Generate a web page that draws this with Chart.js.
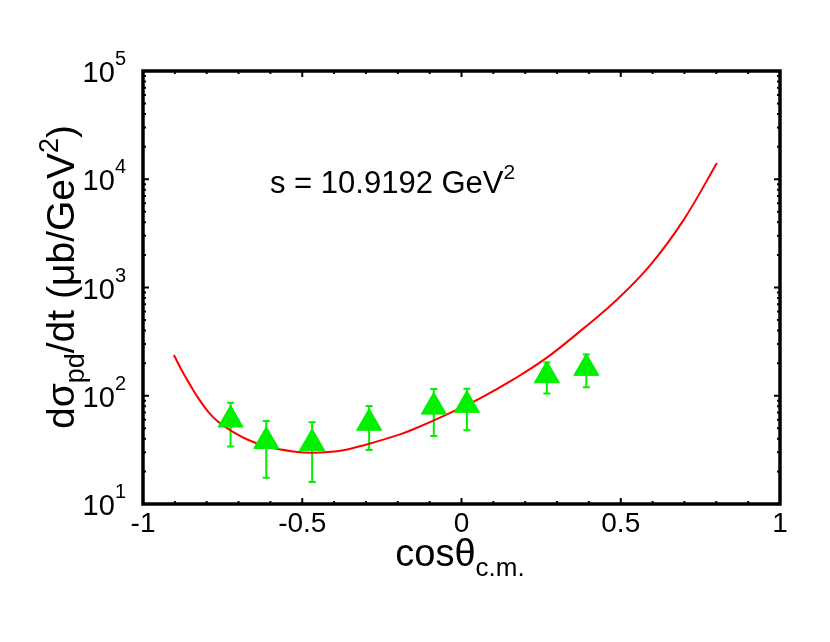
<!DOCTYPE html>
<html>
<head>
<meta charset="utf-8">
<script src="https://cdn.jsdelivr.net/npm/chart.js@4.4.0/dist/chart.umd.min.js"></script>
<style>
 html, body { margin: 0; padding: 0; background: #fff; }
</style>
</head>
<body>
<canvas id="myChart" width="830" height="642"></canvas>
<script>
// measured points (cos theta, dsigma/dt, error)
const cosTheta = [-0.725, -0.613, -0.469, -0.290, -0.087, 0.017, 0.268, 0.392];
const dsdt = [60, 38, 36.5, 56, 79, 82, 154, 180];
const dsdtErr = [26, 20.5, 20.5, 24.5, 36.5, 34, 49, 60];

// model curve
const curveCos = [-0.903, -0.879, -0.852, -0.826, -0.795, -0.764, -0.7215, -0.669, -0.612, -0.528,
 -0.465, -0.381, -0.298, -0.193, -0.151, -0.047, 0.058, 0.163, 0.268, 0.383,
 0.487, 0.592, 0.697, 0.802];
const curveVal = [238, 173, 126, 94.6, 71, 57.5, 47.2, 39, 34, 30.6,
 29.8, 31, 35.5, 44, 49, 67, 94.6, 141.5, 225, 419,
 766, 1600, 4190, 14150];

// axis ticks
const xTicks = [-1, -0.5, 0, 0.5, 1];
const xTickLabels = ['-1', '-0.5', '0', '0.5', '1'];
const xMinorStep = 0.1;
const yTicks = [10, 100, 1000, 10000, 100000];
const yTickExp = ['1', '2', '3', '4', '5'];

const FONT = "'Liberation Sans', Arial, Helvetica, sans-serif";
const GREEN = '#00f000';

// draws a run of text pieces (normal, sub, sup) starting at x
function drawPieces(ctx, pieces, x, y, align) {
 let total = 0;
 pieces.forEach(p => {
  ctx.font = p.size + 'px ' + FONT;
  p.w = ctx.measureText(p.t).width;
  total += p.w;
 });
 let cx = x;
 if (align === 'center') cx = x - total / 2;
 if (align === 'right') cx = x - total;
 ctx.textAlign = 'left';
 ctx.textBaseline = 'alphabetic';
 pieces.forEach(p => {
  ctx.font = p.size + 'px ' + FONT;
  ctx.fillText(p.t, cx, y + (p.dy || 0));
  cx += p.w;
 });
}

const errorBars = {
 id: 'errorBars',
 beforeDatasetsDraw(chart) {
  const ctx = chart.ctx;
  const xs = chart.scales.x, ys = chart.scales.y;
  ctx.save();
  ctx.strokeStyle = GREEN;
  ctx.lineWidth = 2;
  for (let i = 0; i < cosTheta.length; i++) {
   const px = xs.getPixelForValue(cosTheta[i]);
   const top = ys.getPixelForValue(dsdt[i] + dsdtErr[i]);
   const bot = ys.getPixelForValue(dsdt[i] - dsdtErr[i]);
   ctx.beginPath();
   ctx.moveTo(px, top); ctx.lineTo(px, bot);
   ctx.moveTo(px - 3.5, top); ctx.lineTo(px + 3.5, top);
   ctx.moveTo(px - 3.5, bot); ctx.lineTo(px + 3.5, bot);
   ctx.stroke();
  }
  ctx.restore();
 }
};

const frameAndLabels = {
 id: 'frameAndLabels',
 afterDraw(chart) {
  const ctx = chart.ctx;
  const a = chart.chartArea;
  const xs = chart.scales.x, ys = chart.scales.y;
  ctx.save();
  ctx.strokeStyle = '#000';
  ctx.fillStyle = '#000';

  // ticks
  ctx.lineWidth = 2;
  ctx.beginPath();
  for (let v = -1 + xMinorStep; v < 1 - 1e-6; v += xMinorStep) {
   const px = xs.getPixelForValue(v);
   const len = xTicks.some(t => Math.abs(t - v) < 1e-6) ? 6 : 3;
   ctx.moveTo(px, a.bottom); ctx.lineTo(px, a.bottom - len);
   ctx.moveTo(px, a.top); ctx.lineTo(px, a.top + len);
  }
  for (let d = 0; d < yTicks.length; d++) {
   const base = yTicks[d];
   for (let k = 1; k <= 9; k++) {
    const v = base * k;
    if (v > yTicks[yTicks.length - 1]) break;
    const py = ys.getPixelForValue(v);
    const len = k === 1 ? 6 : 3;
    ctx.moveTo(a.left, py); ctx.lineTo(a.left + len, py);
    ctx.moveTo(a.right, py); ctx.lineTo(a.right - len, py);
   }
  }
  ctx.stroke();

  // frame
  ctx.lineWidth = 3.5;
  ctx.strokeRect(a.left, a.top, a.right - a.left, a.bottom - a.top);

  // x tick labels
  ctx.font = '28px ' + FONT;
  ctx.textAlign = 'center';
  ctx.textBaseline = 'alphabetic';
  xTicks.forEach((t, i) => {
   ctx.fillText(xTickLabels[i], xs.getPixelForValue(t), a.bottom + 28);
  });

  // y tick labels
  yTicks.forEach((t, i) => {
   const py = ys.getPixelForValue(t);
   ctx.font = '20px ' + FONT;
   const ew = ctx.measureText(yTickExp[i]).width;
   const right = a.left - 17;
   ctx.textAlign = 'left';
   ctx.fillText(yTickExp[i], right - ew, py - 6);
   ctx.font = '29px ' + FONT;
   ctx.textAlign = 'right';
   ctx.fillText('10', right - ew, py + 11);
  });

  // x axis title
  drawPieces(ctx, [
   { t: 'cos\u03b8', size: 38 },
   { t: 'c.m.', size: 26, dy: 10 }
  ], 460, 566, 'center');

  // y axis title
  ctx.save();
  ctx.translate(74, 277);
  ctx.rotate(-Math.PI / 2);
  drawPieces(ctx, [
   { t: 'd\u03c3', size: 39 },
   { t: 'pd', size: 27, dy: 10 },
   { t: '/dt (\u03bcb/GeV', size: 39 },
   { t: '2', size: 27, dy: -16 },
   { t: ')', size: 39 }
  ], 0, 0, 'center');
  ctx.restore();

  // annotation
  drawPieces(ctx, [
   { t: 's = 10.9192 GeV', size: 31 },
   { t: '2', size: 21, dy: -14 }
  ], 270, 193, 'left');

  ctx.restore();
 }
};

const ctx = document.getElementById('myChart').getContext('2d');
const myChart = new Chart(ctx, {
 type: 'scatter',
 data: {
  datasets: [{
   label: 'model',
   data: curveCos.map((c, i) => ({ x: c, y: curveVal[i] })),
   showLine: true,
   borderColor: '#ff0000',
   borderWidth: 2,
   pointRadius: 0,
   tension: 0.4,
   order: 2
  }, {
   label: 'data',
   data: cosTheta.map((c, i) => ({ x: c, y: dsdt[i] })),
   pointStyle: 'triangle',
   pointRadius: 14.5,
   backgroundColor: GREEN,
   borderColor: GREEN,
   borderWidth: 1,
   order: 1
  }]
 },
 options: {
  responsive: false,
  animation: false,
  layout: { padding: { left: 143, right: 50, top: 71, bottom: 138 } },
  plugins: { legend: { display: false }, tooltip: { enabled: false } },
  scales: {
   x: { type: 'linear', min: -1, max: 1, display: false },
   y: { type: 'logarithmic', min: 10, max: 100000, display: false }
  }
 },
 plugins: [errorBars, frameAndLabels]
});
</script>
</body>
</html>
